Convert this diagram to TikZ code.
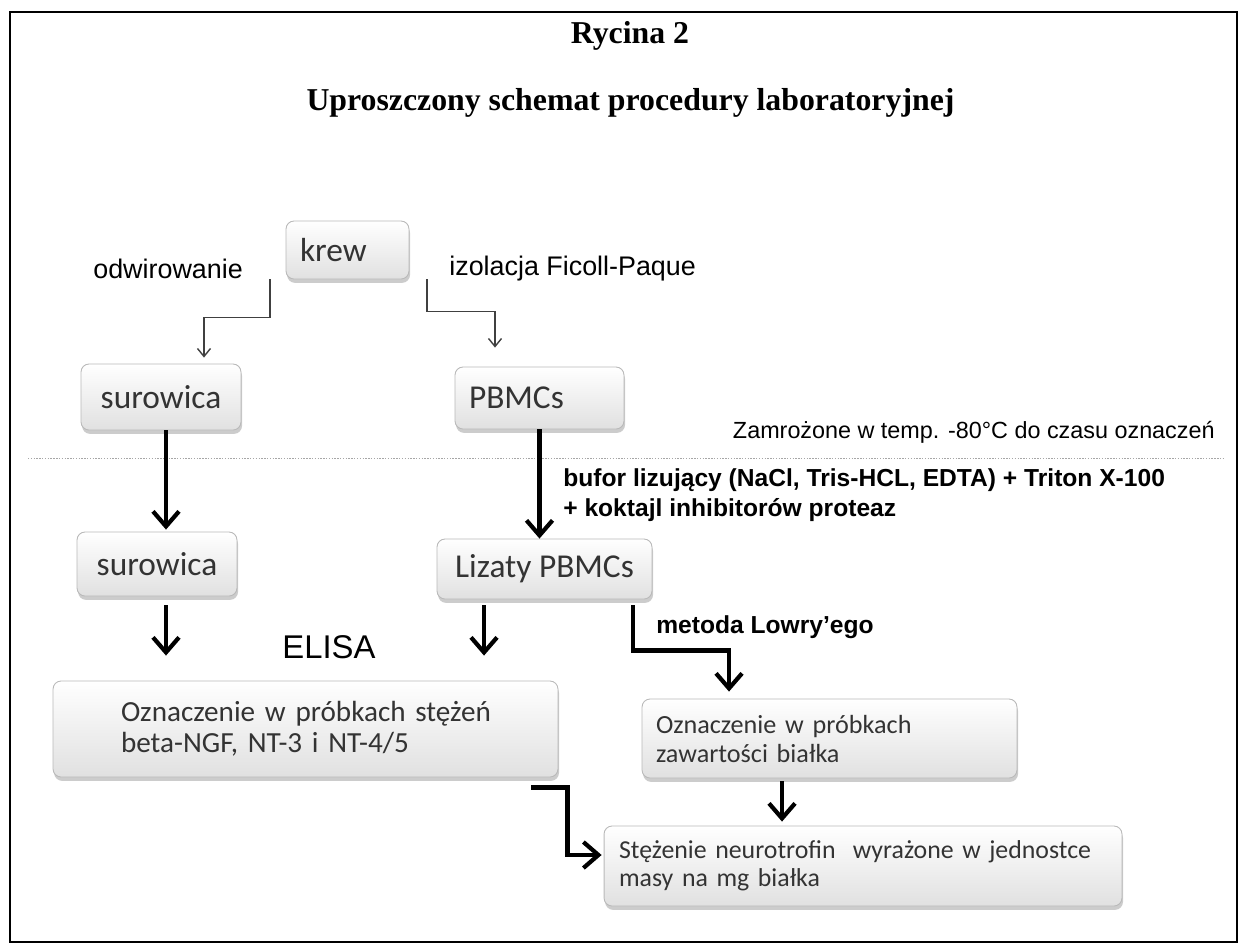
\documentclass[tikz,border=0pt]{standalone}
\usepackage{fontspec}
\setmainfont{Liberation Serif}
\newfontfamily\calibri{Carlito}
\newfontfamily\arial{Liberation Sans}
\usetikzlibrary{arrows.meta,shadows}

\tikzset{
  etap/.style={rounded corners=0.16cm, draw=gray!55, line width=0.5pt,
    top color=white, bottom color=gray!24,
    drop shadow={shadow xshift=0.6pt, shadow yshift=-2.2pt, opacity=0.4},
    font=\calibri\fontsize{19}{22}\selectfont, text=black!80, inner sep=0pt},
  opis/.style={font=\arial\fontsize{15.3}{18}\selectfont, inner sep=0pt},
  gruba/.style={line width=2.4pt, -{Straight Barb[length=0.3cm,width=0.52cm]}},
  cienka/.style={line width=0.8pt, gray!50!black, -{Straight Barb[length=0.16cm,width=0.26cm]}},
}

\begin{document}
\begin{tikzpicture}[x=0.02cm,y=-0.02cm]
	\useasboundingbox (0,0) rectangle (1239,944);

	% frame
	\draw[line width=1.2pt] (10,12) rectangle (1237,942);

	% title
	\node[font=\bfseries\fontsize{18.1}{20}\selectfont, anchor=base] (rycina) at (630,43) {Rycina 2};
	\node[font=\bfseries\fontsize{18.1}{20}\selectfont, anchor=base] (tytul) at (630.5,110) {Uproszczony schemat procedury laboratoryjnej};

	% boxes
	\node[etap, minimum width=2.46cm, minimum height=1.16cm, inner xsep=0.28cm, text width=1.9cm, align=left] (krew) at (347.5,250) {krew};
	\node[etap, minimum width=3.2cm, minimum height=1.32cm] (suro1) at (161,397) {surowica};
	\node[etap, minimum width=3.38cm, minimum height=1.24cm, inner xsep=0.28cm, text width=2.82cm, align=left] (pbmc) at (539.5,398) {PBMCs};
	\node[etap, minimum width=3.2cm, minimum height=1.28cm] (suro2) at (157,564) {surowica};
	\node[etap, minimum width=4.3cm, minimum height=1.2cm] (lizaty) at (544.5,569) {Lizaty PBMCs};
	\node[etap, minimum width=10.1cm, minimum height=1.92cm, inner xsep=1.36cm, text width=7.38cm, align=left, font=\calibri\fontsize{16.6}{17.5}\selectfont] (oznA) at (305.5,729) {\mbox{Oznaczenie w próbkach stężeń}\\beta-NGF, NT-3 i NT-4/5};
	\node[etap, minimum width=7.5cm, minimum height=1.58cm, inner xsep=0.28cm, text width=6.94cm, align=left, font=\calibri\fontsize{14.9}{16.5}\selectfont] (oznB) at (829.5,738.5) {Oznaczenie w próbkach\\zawartości białka};
	\node[etap, minimum width=10.36cm, minimum height=1.6cm, inner xsep=0.3cm, text width=9.76cm, align=left, font=\calibri\fontsize{14.7}{16}\selectfont] (koniec) at (863,866) {Stężenie neurotrofin\ \ wyrażone w jednostce\\masy na mg białka};

	% labels
	\node[opis, anchor=west] (odwir) at (93,269) {odwirowanie};
	\node[opis, anchor=west] (izol) at (449,269) {izolacja Ficoll-Paque};
	\node[opis, anchor=east, font=\arial\fontsize{13.3}{16}\selectfont] (zamroz) at (1215,432) {Zamrożone w temp. -80°C do czasu oznaczeń};
	\node[opis, anchor=west, align=left, font=\arial\bfseries\fontsize{14}{17}\selectfont] (bufor) at (563,495) {bufor lizujący (NaCl, Tris-HCL, EDTA) + Triton X-100\\+ koktajl inhibitorów proteaz};
	\node[opis, anchor=west, font=\arial\fontsize{18.7}{22}\selectfont] (elisa) at (282,647) {ELISA};
	\node[opis, anchor=west, font=\arial\bfseries\fontsize{14}{17}\selectfont] (lowry) at (656,627) {metoda Lowry’ego};

	% freezing line
	\draw[gray!70, dash pattern=on 0.8pt off 0.8pt, line width=0.5pt] (28,458) -- (1225,458);

	% krew split
	\draw[cienka, shorten >=0.12cm] ([xshift=-1.55cm]krew.south) -- ++(0,38) -| ([xshift=0.86cm]suro1.north);
	\draw[cienka, shorten >=0.38cm] ([xshift=1.59cm]krew.south) -- ++(0,32) -| ([xshift=-0.89cm]pbmc.north);

	% thick arrows
	\draw[gruba, shorten >=0.04cm] ([xshift=0.1cm]suro1.south) -- ([xshift=0.1cm]suro1.south |- suro2.north);
	\draw[gruba] (pbmc.south) -- (pbmc.south |- lizaty.north);
	\draw[gruba, shorten <=0.18cm, shorten >=0.5cm] ([xshift=0.18cm]suro2.south) -- ([xshift=0.18cm]suro2.south |- oznA.north);
	\draw[gruba, shorten <=0.12cm, shorten >=0.5cm] ([xshift=-1.21cm]lizaty.south) -- ([xshift=-1.21cm]lizaty.south |- oznA.north);
	\draw[gruba, shorten <=0.12cm, shorten >=0.14cm] ([xshift=1.77cm]lizaty.south) -- ++(0,51) -| ([xshift=-2.01cm]oznB.north);
	\draw[gruba, shorten <=0.06cm, shorten >=0.08cm] ([xshift=-0.95cm]oznB.south) -- ([xshift=-0.95cm]oznB.south |- koniec.north);
	\draw[gruba, shorten >=0.04cm] ([xshift=-0.54cm,yshift=-0.2cm]oznA.south east) -- ++(36,0) |- ([yshift=0.22cm]koniec.west);
\end{tikzpicture}
\end{document}
